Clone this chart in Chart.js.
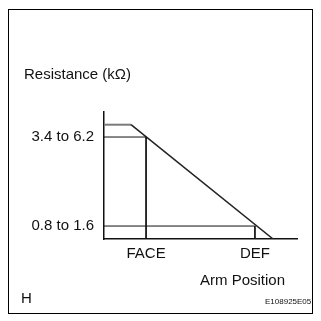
<!DOCTYPE html>
<html>
<head>
<meta charset="utf-8">
<script src="https://cdn.jsdelivr.net/npm/chart.js@4"></script>
<style>
  body { margin: 0; background: #fff; }
  #wrap { position: relative; width: 321px; height: 321px; }
  #frame { position: absolute; left: 8px; top: 9px; width: 305px; height: 305px; border: 1.5px solid #000; box-sizing: border-box; }
  canvas { position: absolute; left: 0; top: 0; }
  .lbl { position: absolute; font-family: "Liberation Sans", Arial, sans-serif; color: #111; white-space: nowrap; }
</style>
</head>
<body>
<div id="wrap">
  <div id="frame"></div>
  <canvas id="chart" width="321" height="321"></canvas>
  <div class="lbl" style="left:24px; top:65px; font-size:15px;">Resistance (kΩ)</div>
  <div class="lbl" style="left:200px; top:271px; font-size:15px;">Arm Position</div>
  <div class="lbl" style="left:21px; top:289px; font-size:15px;">H</div>
  <div class="lbl" style="left:265px; top:297px; font-size:8px;">E108925E05</div>
</div>
<script>
// arm position (x) in arbitrary units 0..10, resistance level (y) in units 0..10
const curveX = [0, 1.4, 8.76];
const curveY = [9, 9, 0];

const xTickValues = [2.18, 7.82];
const xTickLabels = ['FACE', 'DEF'];
const yTickValues = [1.02, 8.03];
const yTickLabels = ['0.8 to 1.6', '3.4 to 6.2'];

const FONT = { family: '"Liberation Sans", Arial, sans-serif', size: 15 };

const curve = curveX.map((x, i) => ({ x, y: curveY[i] }));
// guide lines from the y axis to the curve and down to the x axis
const guides = xTickValues.map((x, i) => [
  { x: 0, y: yTickValues[yTickValues.length - 1 - i] },
  { x, y: yTickValues[yTickValues.length - 1 - i] },
  { x, y: 0 }
]);

new Chart(document.getElementById('chart'), {
  type: 'line',
  data: {
    datasets: [
      ...guides.map(g => ({
        data: g,
        borderColor: '#111',
        borderWidth: 1,
        pointRadius: 0,
        tension: 0,
      })),
      {
        data: curve,
        borderColor: '#222',
        borderWidth: 1.5,
        pointRadius: 0,
        tension: 0,
        segment: {
          borderColor: ctx => ctx.p0DataIndex === 0 ? '#7a7a7a' : '#222',
          borderWidth: ctx => ctx.p0DataIndex === 0 ? 2 : 1.5,
        }
      }
    ]
  },
  options: {
    responsive: false,
    animation: false,
    layout: { padding: { top: 112, right: 24, left: 0, bottom: 0 } },
    plugins: { legend: { display: false }, tooltip: { enabled: false } },
    scales: {
      x: {
        type: 'linear',
        min: 0,
        max: 10,
        afterFit: s => { s.height = 82; },
        afterBuildTicks: s => { s.ticks = xTickValues.map(v => ({ value: v })); },
        grid: { display: false, drawTicks: false },
        border: { display: true, color: '#111', width: 1.5 },
        ticks: {
          padding: 6,
          color: '#111',
          font: FONT,
          callback: (v, i) => xTickLabels[i],
        }
      },
      y: {
        type: 'linear',
        min: 0,
        max: 10,
        afterFit: s => { s.width = 104; },
        afterBuildTicks: s => { s.ticks = yTickValues.map(v => ({ value: v })); },
        grid: { display: false, drawTicks: false },
        border: { display: true, color: '#111', width: 1.5 },
        ticks: {
          padding: 10,
          color: '#111',
          font: FONT,
          callback: (v, i) => yTickLabels[i],
        }
      }
    }
  }
});
</script>
</body>
</html>
